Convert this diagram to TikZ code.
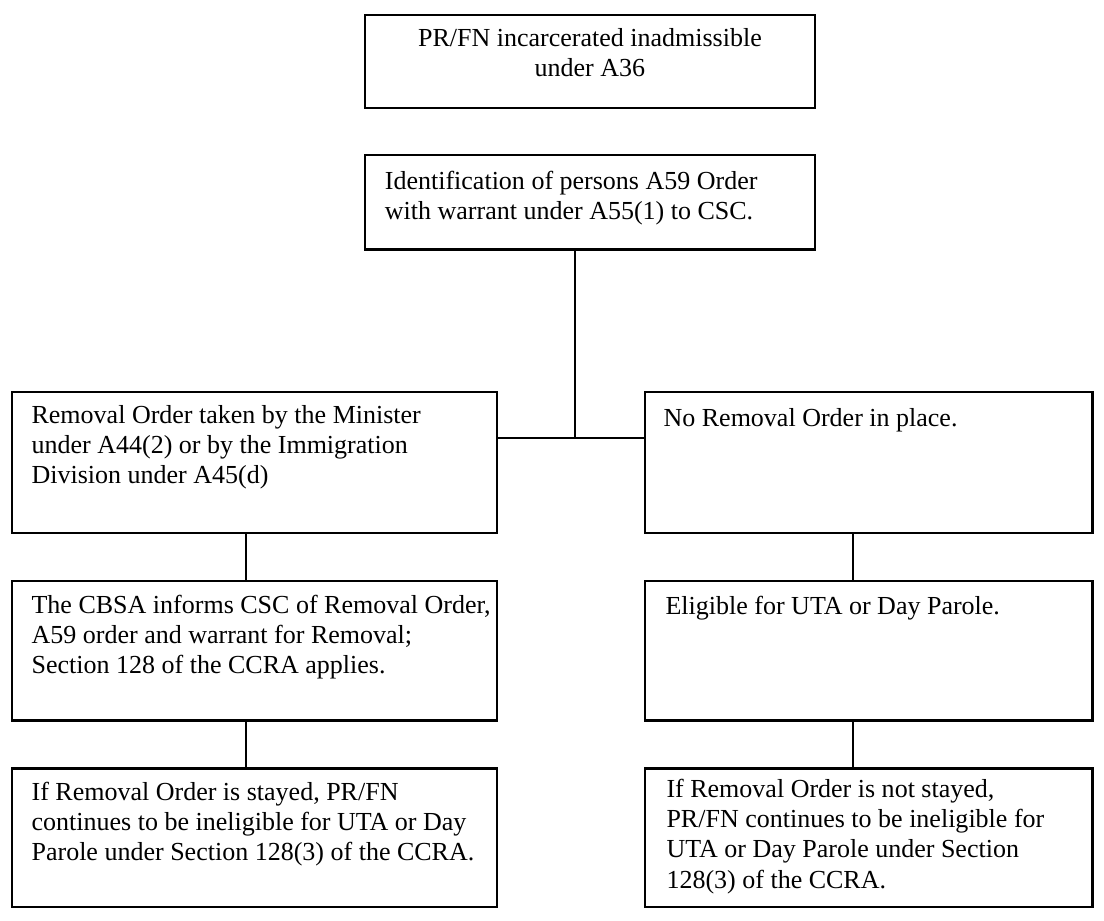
\documentclass[tikz,border=0pt]{standalone}
\usepackage{fontspec}
\setmainfont{Liberation Serif}
\usetikzlibrary{calc}
\begin{document}
\begin{tikzpicture}[x=1pt,y=-1pt,
  box/.style={draw=black, line width=2.3pt, inner sep=0pt, anchor=north west},
  txt/.style={inner sep=0pt, anchor=north west, align=left,
    font=\fontsize{26.5}{30.7}\selectfont, execute at begin node=\rule{0pt}{20pt}},
  ctxt/.style={inner sep=0pt, anchor=north, align=center,
    font=\fontsize{26.5}{30.7}\selectfont, execute at begin node=\rule{0pt}{20pt}},
  conn/.style={draw=black, line width=2.3pt}]
\fill[white] (0,0) rectangle (1125,937.5);
\useasboundingbox (0,0) rectangle (1125,937.5);
% boxes
\node[box, minimum width=458pt, minimum height=95pt] (B1) at (371,14) {};
\node[box, minimum width=458pt, minimum height=96pt] (B2) at (371,157) {};
\node[box, minimum width=494pt, minimum height=144pt] (L2) at (11,398) {};
\node[box, minimum width=456pt, minimum height=144pt] (R2) at (656,398) {};
\node[box, minimum width=494pt, minimum height=142pt] (L3) at (11,591) {};
\node[box, minimum width=456pt, minimum height=142pt] (R3) at (656,591) {};
\node[box, minimum width=494pt, minimum height=141pt] (L4) at (11,782) {};
\node[box, minimum width=456pt, minimum height=141pt] (R4) at (656,782) {};
% texts
\node[ctxt] (B1t) at ($(B1.north)+(0,15)$) {PR/FN incarcerated inadmissible\\under A36};
\node[txt] (B2t) at ($(B2.north west)+(21,17)$) {Identification of persons A59 Order\\with warrant under A55(1) to CSC.};
\node[txt] (L2t) at ($(L2.north west)+(21,15)$) {Removal Order taken by the Minister\\under A44(2) or by the Immigration\\Division under A45(d)};
\node[txt] (R2t) at ($(R2.north west)+(20,16)$) {No Removal Order in place.};
\node[txt] (L3t) at ($(L3.north west)+(21,15)$) {The CBSA informs CSC of Removal Order,\\A59 order and warrant for Removal;\\Section 128 of the CCRA applies.};
\node[txt] (R3t) at ($(R3.north west)+(22,15)$) {Eligible for UTA or Day Parole.};
\node[txt] (L4t) at ($(L4.north west)+(21,15)$) {If Removal Order is stayed, PR/FN\\continues to be ineligible for UTA or Day\\Parole under Section 128(3) of the CCRA.};
\node[txt] (R4t) at ($(R4.north west)+(23,12)$) {If Removal Order is not stayed,\\PR/FN continues to be ineligible for\\UTA or Day Parole under Section\\128(3) of the CCRA.};
% connectors
\coordinate (J) at (586,446);
\coordinate (LX) at (251,0);
\coordinate (RX) at (869,0);
\draw[conn] (B2.south -| J) -- (J);
\draw[conn] (L2.east |- J) -- (R2.west |- J);
\draw[conn] (L2.south -| LX) -- (L3.north -| LX);
\draw[conn] (L3.south -| LX) -- (L4.north -| LX);
\draw[conn] (R2.south -| RX) -- (R3.north -| RX);
\draw[conn] (R3.south -| RX) -- (R4.north -| RX);
\end{tikzpicture}
\end{document}
